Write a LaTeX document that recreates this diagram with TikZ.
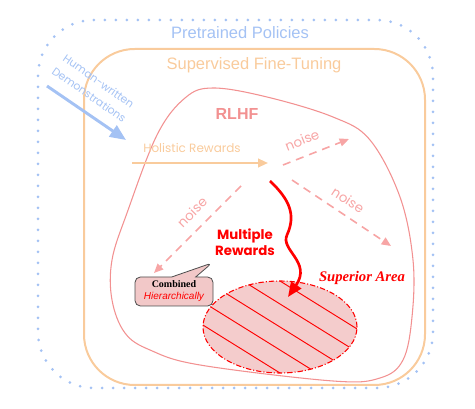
\documentclass[tikz,border=0pt]{standalone}
\usepackage{fontspec}
\setmainfont{Liberation Serif}
\newfontfamily\arialfont{Liberation Sans}
\newfontfamily\comicfont{Poppins}
\usetikzlibrary{arrows.meta,shapes.callouts}
\definecolor{ppblue}{RGB}{164,194,244}
\definecolor{sftorange}{RGB}{249,203,156}
\definecolor{rlhfpink}{RGB}{242,145,145}
\definecolor{noisepink}{RGB}{247,165,165}
\definecolor{suppink}{RGB}{244,204,204}
\definecolor{callpink}{RGB}{242,200,200}

\begin{document}
\begin{tikzpicture}[x=0.75pt,y=-0.75pt,
    lbl/.style={inner sep=0pt,align=center},
    noisearrow/.style={noisepink,line width=1.2pt,dash pattern=on 6pt off 4.5pt,-{Triangle[length=7pt,width=6pt]}},
    noiselbl/.style={lbl,text=noisepink,font=\comicfont\fontsize{10}{12}\selectfont}]
  \useasboundingbox (0,0) rectangle (475,409);
  % frames
  \draw[ppblue,line width=2.25pt,line cap=round,dash pattern=on 0pt off 8.25pt,rounded corners=42pt] (38,20) rectangle (433,388);
  \draw[sftorange,line width=1.5pt,rounded corners=38pt] (84,49) rectangle (425,385);
  \draw[rlhfpink,line width=0.8pt] plot[smooth cycle,tension=0.6] coordinates {(213,88) (267,97) (333,117) (370,140) (400,197) (413,260) (412,317) (403,360) (380,378) (333,381) (200,365) (150,350) (125,333) (112,300) (112,260) (127,213) (157,135) (185,98)};
  \node[lbl,text=ppblue,font=\arialfont\fontsize{12.4}{14}\selectfont] (pre) at (240,33) {Pretrained Policies};
  \node[lbl,text=sftorange,font=\arialfont\fontsize{12.4}{14}\selectfont] (sft) at (254,65) {Supervised Fine-Tuning};
  \node[lbl,text=rlhfpink,font=\arialfont\bfseries\fontsize{12}{14}\selectfont] (rlhf) at (237,114) {RLHF};

  % superior area
  \fill[suppink] (280,327) ellipse [x radius=57.75pt,y radius=34.5pt];
  \begin{scope}
    \clip (280,327) ellipse [x radius=57.75pt,y radius=34.5pt];
    \foreach \k in {-2,...,2}
      \draw[red,line width=0.7pt] (190,{327+23*\k-56}) -- (370,{327+23*\k+56});
  \end{scope}
  \draw[red,line width=0.8pt,dash pattern=on 4pt off 1.5pt on 0.8pt off 1.5pt] (280,327) ellipse [x radius=57.75pt,y radius=34.5pt];
  \node[lbl,text=red,font=\bfseries\itshape\fontsize{11}{13}\selectfont] (sup) at (362,278) {Superior Area};

  % demonstrations
  \node[lbl,text=ppblue,rotate=-35,font=\comicfont\fontsize{8.2}{12.4}\selectfont] (demo) at (94,88) {Human-written\\Demonstrations};
  \coordinate (hum-s) at (47,86);
  \coordinate (hum-e) at (126,140);
  \draw[ppblue,line width=2.2pt,-{Triangle[length=12pt,width=10pt]}] (hum-s) -- (hum-e);

  % holistic rewards
  \node[lbl,text=sftorange,font=\comicfont\fontsize{9}{11}\selectfont] (hol) at (192,148) {Holistic Rewards};
  \coordinate (hol-s) at (132,163);
  \coordinate (hol-e) at (268,163);
  \draw[sftorange,line width=1.5pt,-{Triangle[length=7.5pt,width=6.5pt]}] (hol-s) -- (hol-e);

  % noise
  \coordinate (n1-s) at (283,165);
  \coordinate (n1-e) at (349,139);
  \coordinate (n2-s) at (292,180);
  \coordinate (n2-e) at (391,246);
  \coordinate (n3-s) at (241,186);
  \coordinate (n3-e) at (154,273);
  \draw[noisearrow] (n1-s) -- (n1-e);
  \draw[noisearrow] (n2-s) -- (n2-e);
  \draw[noisearrow] (n3-s) -- (n3-e);
  \node[noiselbl,rotate=22] (noise1) at (302,140) {noise};
  \node[noiselbl,rotate=-33] (noise2) at (348,200) {noise};
  \node[noiselbl,rotate=45] (noise3) at (192,212) {noise};

  % multiple rewards
  \node[lbl,text=red,font=\comicfont\bfseries\fontsize{10}{12}\selectfont] (mult) at (245,242) {Multiple\\Rewards};
  \coordinate (wv-s) at (270,181);
  \coordinate (wv-e) at (288,297);
  \draw[red,line width=2pt,-{Triangle[length=11pt,width=9pt]}] (wv-s) .. controls (290,200) and (296,215) .. (287,235) .. controls (280,250) and (312,262) .. (wv-e);

  % callout
  \node[rectangle callout,draw=gray!60!black,fill=callpink,line width=0.6pt,rounded corners=4pt,
    minimum width=58.5pt,minimum height=21.75pt,inner sep=1pt,align=center,
    callout absolute pointer={(212,263)},callout pointer width=18pt,
    font=\fontsize{7.5}{9}\selectfont] (comb) at (174,291.5)
    {\textbf{Combined}\\{\color{red}\arialfont\itshape Hierarchically}};
\end{tikzpicture}
\end{document}
